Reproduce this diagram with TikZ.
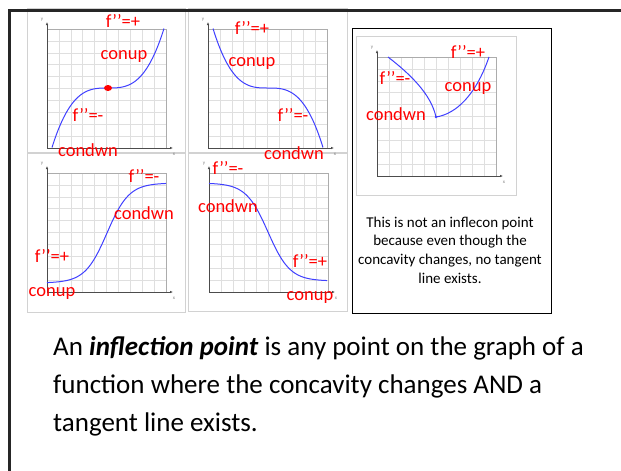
\documentclass[tikz,border=0pt]{standalone}
\usepackage{fontspec}
\setmainfont{Carlito}
\usetikzlibrary{arrows.meta}
\newcommand\plotgrid[2]{%
  \foreach \i in {1,...,9} {
    \draw[minor] ({#1+11.9*\i},#2) -- ++(0,119);
    \draw[minor] (#1,{#2+11.9*\i}) -- ++(119,0);
  }
  \draw[gbord] (#1,#2) -- ++(119,0) -- ++(0,119);
  \draw[axis] (#1,#2+119) -- (#1,#2-7);
  \draw[axis] (#1,#2+119) -- (#1+126,#2+119);
  \node[tinylbl] at (#1-5,#2-9) {y};
  \node[tinylbl] at (#1+127,#2+125) {x};
}
\begin{document}
\begin{tikzpicture}[x=1pt,y=-1pt,
  lbl/.style={text=red, font=\fontsize{18.5}{18.5}\selectfont, inner sep=0pt},
  pframe/.style={draw=gray!35, line width=0.8pt},
  minor/.style={draw=gray!25, line width=0.6pt},
  gbord/.style={draw=gray!65, line width=0.8pt},
  axis/.style={draw=black!70, line width=0.8pt, -{Latex[length=3pt,width=2.5pt]}},
  curve/.style={draw=blue!75, line width=1pt},
  tinylbl/.style={font=\fontsize{5}{5}\selectfont, text=gray, inner sep=0pt}]
\useasboundingbox (0,0) rectangle (621,471);
\fill[white] (0,0) rectangle (621,471);
% panel frames
\draw[pframe] (27,8) rectangle (185,152);
\draw[pframe] (188,8) rectangle (347,152);
\draw[pframe] (27,153) rectangle (185,312);
\draw[pframe] (188,153) rectangle (347,311);
\draw[black, line width=1pt] (352,28) rectangle (551,313);
\draw[pframe] (356,36) rectangle (516,195);
% grids
\plotgrid{47}{29}
\plotgrid{208}{29}
\plotgrid{377}{57}
\plotgrid{47}{173}
\plotgrid{209}{173}
% curves
\draw[curve] plot[domain=-1:1, samples=80, smooth] ({108+56*\x},{88-59.5*\x*\x*\x});
\fill[red] (108,88) ellipse (4 and 3);
\draw[curve] plot[domain=-1:1, samples=80, smooth] ({268+55*\x},{88+59.5*\x*\x*\x});
\draw[curve] (388,57) .. controls (410,74) and (431,94) .. (436,117);
\draw[curve] (436,117) .. controls (456,114) and (476,95) .. (489,57);
\fill[blue!75] (436,117) circle (1.3);
\draw[curve] plot[domain=47:166, samples=80, smooth] (\x,{233-50*tanh((\x-107)/22)});
\draw[curve] plot[domain=209:327, samples=80, smooth] (\x,{232+49*tanh((\x-268)/22)});
% red labels
\node[lbl] (a1) at (123,21) {f’’=+};
\node[lbl] (a2) at (124,56) {conup};
\node[lbl] (a3) at (88,115) {f’’=-};
\node[lbl] (a4) at (88,150) {condwn};
\node[lbl] (b1) at (252,28) {f’’=+};
\node[lbl] (b2) at (252,63) {conup};
\node[lbl] (b3) at (293,115) {f’’=-};
\node[lbl] (b4) at (294,153) {condwn};
\node[lbl] (c1) at (468,52) {f’’=+};
\node[lbl] (c2) at (395,78) {f’’=-};
\node[lbl] (c3) at (468,88) {conup};
\node[lbl] (c4) at (396,114) {condwn};
\node[lbl] (d1) at (144,176) {f’’=-};
\node[lbl] (d2) at (144,213) {condwn};
\node[lbl] (d3) at (52,256) {f’’=+};
\node[lbl] (d4) at (52,293) {conup};
\node[lbl] (e1) at (228,168) {f’’=-};
\node[lbl] (e2) at (228,206) {condwn};
\node[lbl] (e3) at (310,261) {f’’=+};
\node[lbl] (e4) at (310,297) {conup};
% note
\node[align=center, inner sep=0pt, font=\fontsize{15}{18.7}\selectfont] (note) at (450,250)
  {This is not an inflecon point\\because even though the\\concavity changes, no tangent\\line exists.};
% main text
\node[align=left, inner sep=0pt, anchor=base west, font=\fontsize{27}{38}\selectfont] (main) at (53,431)
  {An \textbf{\textit{inflection point}} is any point on the graph of a\\function where the concavity changes AND a\\tangent line exists.};
% slide border
\draw[black!85, line width=3pt] (9,471) -- (9,10) -- (621,10);
\end{tikzpicture}
\end{document}
